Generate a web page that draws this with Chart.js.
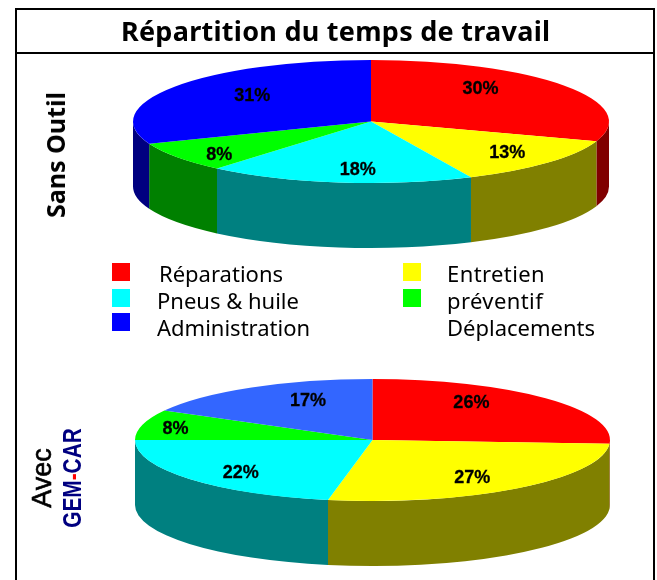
<!DOCTYPE html>
<html lang="fr">
<head>
<meta charset="utf-8">
<script src="https://cdn.jsdelivr.net/npm/chart.js@4"></script>
<style>
html,body{margin:0;padding:0;background:#fff;width:657px;height:580px;overflow:hidden}
canvas{position:absolute;left:0;top:0}
.line{position:absolute;background:#000}
.t{position:absolute;white-space:nowrap;color:#000;line-height:1}
.sw{position:absolute;width:18px;height:18px}
.leg{font-family:"Noto Sans",sans-serif;font-size:22px}
</style>
</head>
<body>
<canvas id="top" width="657" height="580"></canvas>
<canvas id="bottom" width="657" height="580"></canvas>
<div class="line" style="left:15px;top:8px;width:2px;height:572px"></div>
<div class="line" style="left:653px;top:8px;width:2px;height:572px"></div>
<div class="line" style="left:15px;top:8px;width:640px;height:2px"></div>
<div class="line" style="left:15px;top:52px;width:640px;height:2px"></div>
<div id="texts"></div>
<script>
const categories = ['Réparations','Entretien préventif','Pneus & huile','Administration','Déplacements'];
const sansOutil = [30.2,12.9,18.1,7.9,30.9];
const avecGemCar = [26,27,22,8,17];
const titleText = 'Répartition du temps de travail';
const legendLeft = ['Réparations','Pneus & huile','Administration'];
const legendRight = ['Entretien','préventif','Déplacements'];

const topColors = ['#ff0000','#ffff00','#00ffff','#00ff00','#0000ff'];
const topSides = ['#800000','#808000','#008080','#008000','#000080'];
const bottomColors = ['#ff0000','#ffff00','#00ffff','#00ff00','#3366ff'];
const bottomSides = ['#800000','#808000','#008080','#008000','#1a3380'];

const topNudges = [[-6.5,-11],[30,7],[6,12],[-35.5,12],[-1,-5]];
const bottomNudges = [[-5,-12],[12.5,9],[-22,10],[-59,-2],[8,-7.5]];

function pie3d(view){
  return {
    id:'pie3d',
    beforeDatasetsDraw(chart){
      const ctx=chart.ctx, arcs=chart.getDatasetMeta(0).data;
      arcs.forEach((arc,i)=>{
        const a0=Math.max(arc.startAngle,0), a1=Math.min(arc.endAngle,Math.PI);
        if(a1<=a0) return;
        ctx.beginPath();
        ctx.ellipse(view.cx,view.cy,view.rx,view.ry,0,a0,a1);
        ctx.ellipse(view.cx,view.cy+view.depth,view.rx,view.ry,0,a1,a0,true);
        ctx.closePath();
        ctx.fillStyle=view.sides[i];
        ctx.fill();
      });
    },
    beforeDatasetDraw(chart){
      const ctx=chart.ctx, arc=chart.getDatasetMeta(0).data[0];
      ctx.save();
      ctx.translate(view.cx,view.cy);
      ctx.scale(view.rx/arc.outerRadius,view.ry/arc.outerRadius);
      ctx.translate(-arc.x,-arc.y);
    },
    afterDatasetDraw(chart){ chart.ctx.restore(); },
    afterDatasetsDraw(chart){
      const ctx=chart.ctx, arcs=chart.getDatasetMeta(0).data, vals=chart.data.datasets[0].data;
      ctx.save();
      ctx.font='bold 18px "Liberation Sans",Arial,sans-serif';
      ctx.fillStyle='#000';
      ctx.strokeStyle='#000';
      ctx.lineWidth=0.3;
      ctx.textAlign='center';
      ctx.textBaseline='middle';
      arcs.forEach((arc,i)=>{
        const m=(arc.startAngle+arc.endAngle)/2;
        const x=view.cx+0.6*view.rx*Math.cos(m)+view.nudges[i][0];
        const y=view.cy+0.6*view.ry*Math.sin(m)+view.nudges[i][1];
        ctx.fillText(Math.round(vals[i])+'%',x,y);
        ctx.strokeText(Math.round(vals[i])+'%',x,y);
      });
      ctx.restore();
    }
  };
}

function makePie(id,values,colors,view){
  return new Chart(document.getElementById(id),{
    type:'pie',
    data:{labels:categories,datasets:[{data:values,backgroundColor:colors,borderWidth:0,clip:false}]},
    options:{
      responsive:false,animation:false,devicePixelRatio:1,radius:238,
      layout:{padding:0},
      plugins:{legend:{display:false},tooltip:{enabled:false}}
    },
    plugins:[pie3d(view)]
  });
}
makePie('top',sansOutil,topColors,{cx:371,cy:121.5,rx:238,ry:61.5,depth:65,sides:topSides,nudges:topNudges});
makePie('bottom',avecGemCar,bottomColors,{cx:372.5,cy:440,rx:237.5,ry:61,depth:65,sides:bottomSides,nudges:bottomNudges});

const host=document.getElementById('texts');
function addText(html,css,cls){
  const d=document.createElement('div');
  d.className='t '+(cls||'');
  d.style.cssText=css;
  d.innerHTML=html;
  host.appendChild(d);
  return d;
}
addText(titleText,'left:121px;top:15px;font:bold 27px "Noto Sans",sans-serif;line-height:32px;letter-spacing:0.27px');
addText('Sans Outil','left:55px;top:155px;font:bold 25px "Noto Sans",sans-serif;transform:translate(-50%,-50%) rotate(-90deg)');
addText('Avec','left:42px;top:478px;font:27px "Liberation Sans",Arial,sans-serif;-webkit-text-stroke:0.6px #000;transform:translate(-50%,-50%) rotate(-90deg)');
addText('GEM<span style="color:#ff0000;-webkit-text-stroke-color:#ff0000">-</span>CAR','left:72px;top:478px;color:#000080;font:bold 26px "Liberation Sans",Arial,sans-serif;transform:translate(-50%,-50%) rotate(-90deg) scaleX(0.8)');

const rowY=[263,289,313], baseTop=[262,289,316];
[topColors[0],topColors[2],topColors[4]].forEach((c,i)=>{
  const s=document.createElement('div');s.className='sw';s.style.cssText=`left:112px;top:${rowY[i]}px;background:${c}`;host.appendChild(s);
});
[topColors[1],topColors[3]].forEach((c,i)=>{
  const s=document.createElement('div');s.className='sw';s.style.cssText=`left:403px;top:${rowY[i]}px;background:${c}`;host.appendChild(s);
});
legendLeft.forEach((t,i)=>addText(t,`left:${i===0?159:157}px;top:${baseTop[i]}px`,'leg'));
legendRight.forEach((t,i)=>addText(t,`left:447px;top:${baseTop[i]}px;letter-spacing:${i<2?0.4:0}px`,'leg'));
</script>
</body>
</html>
